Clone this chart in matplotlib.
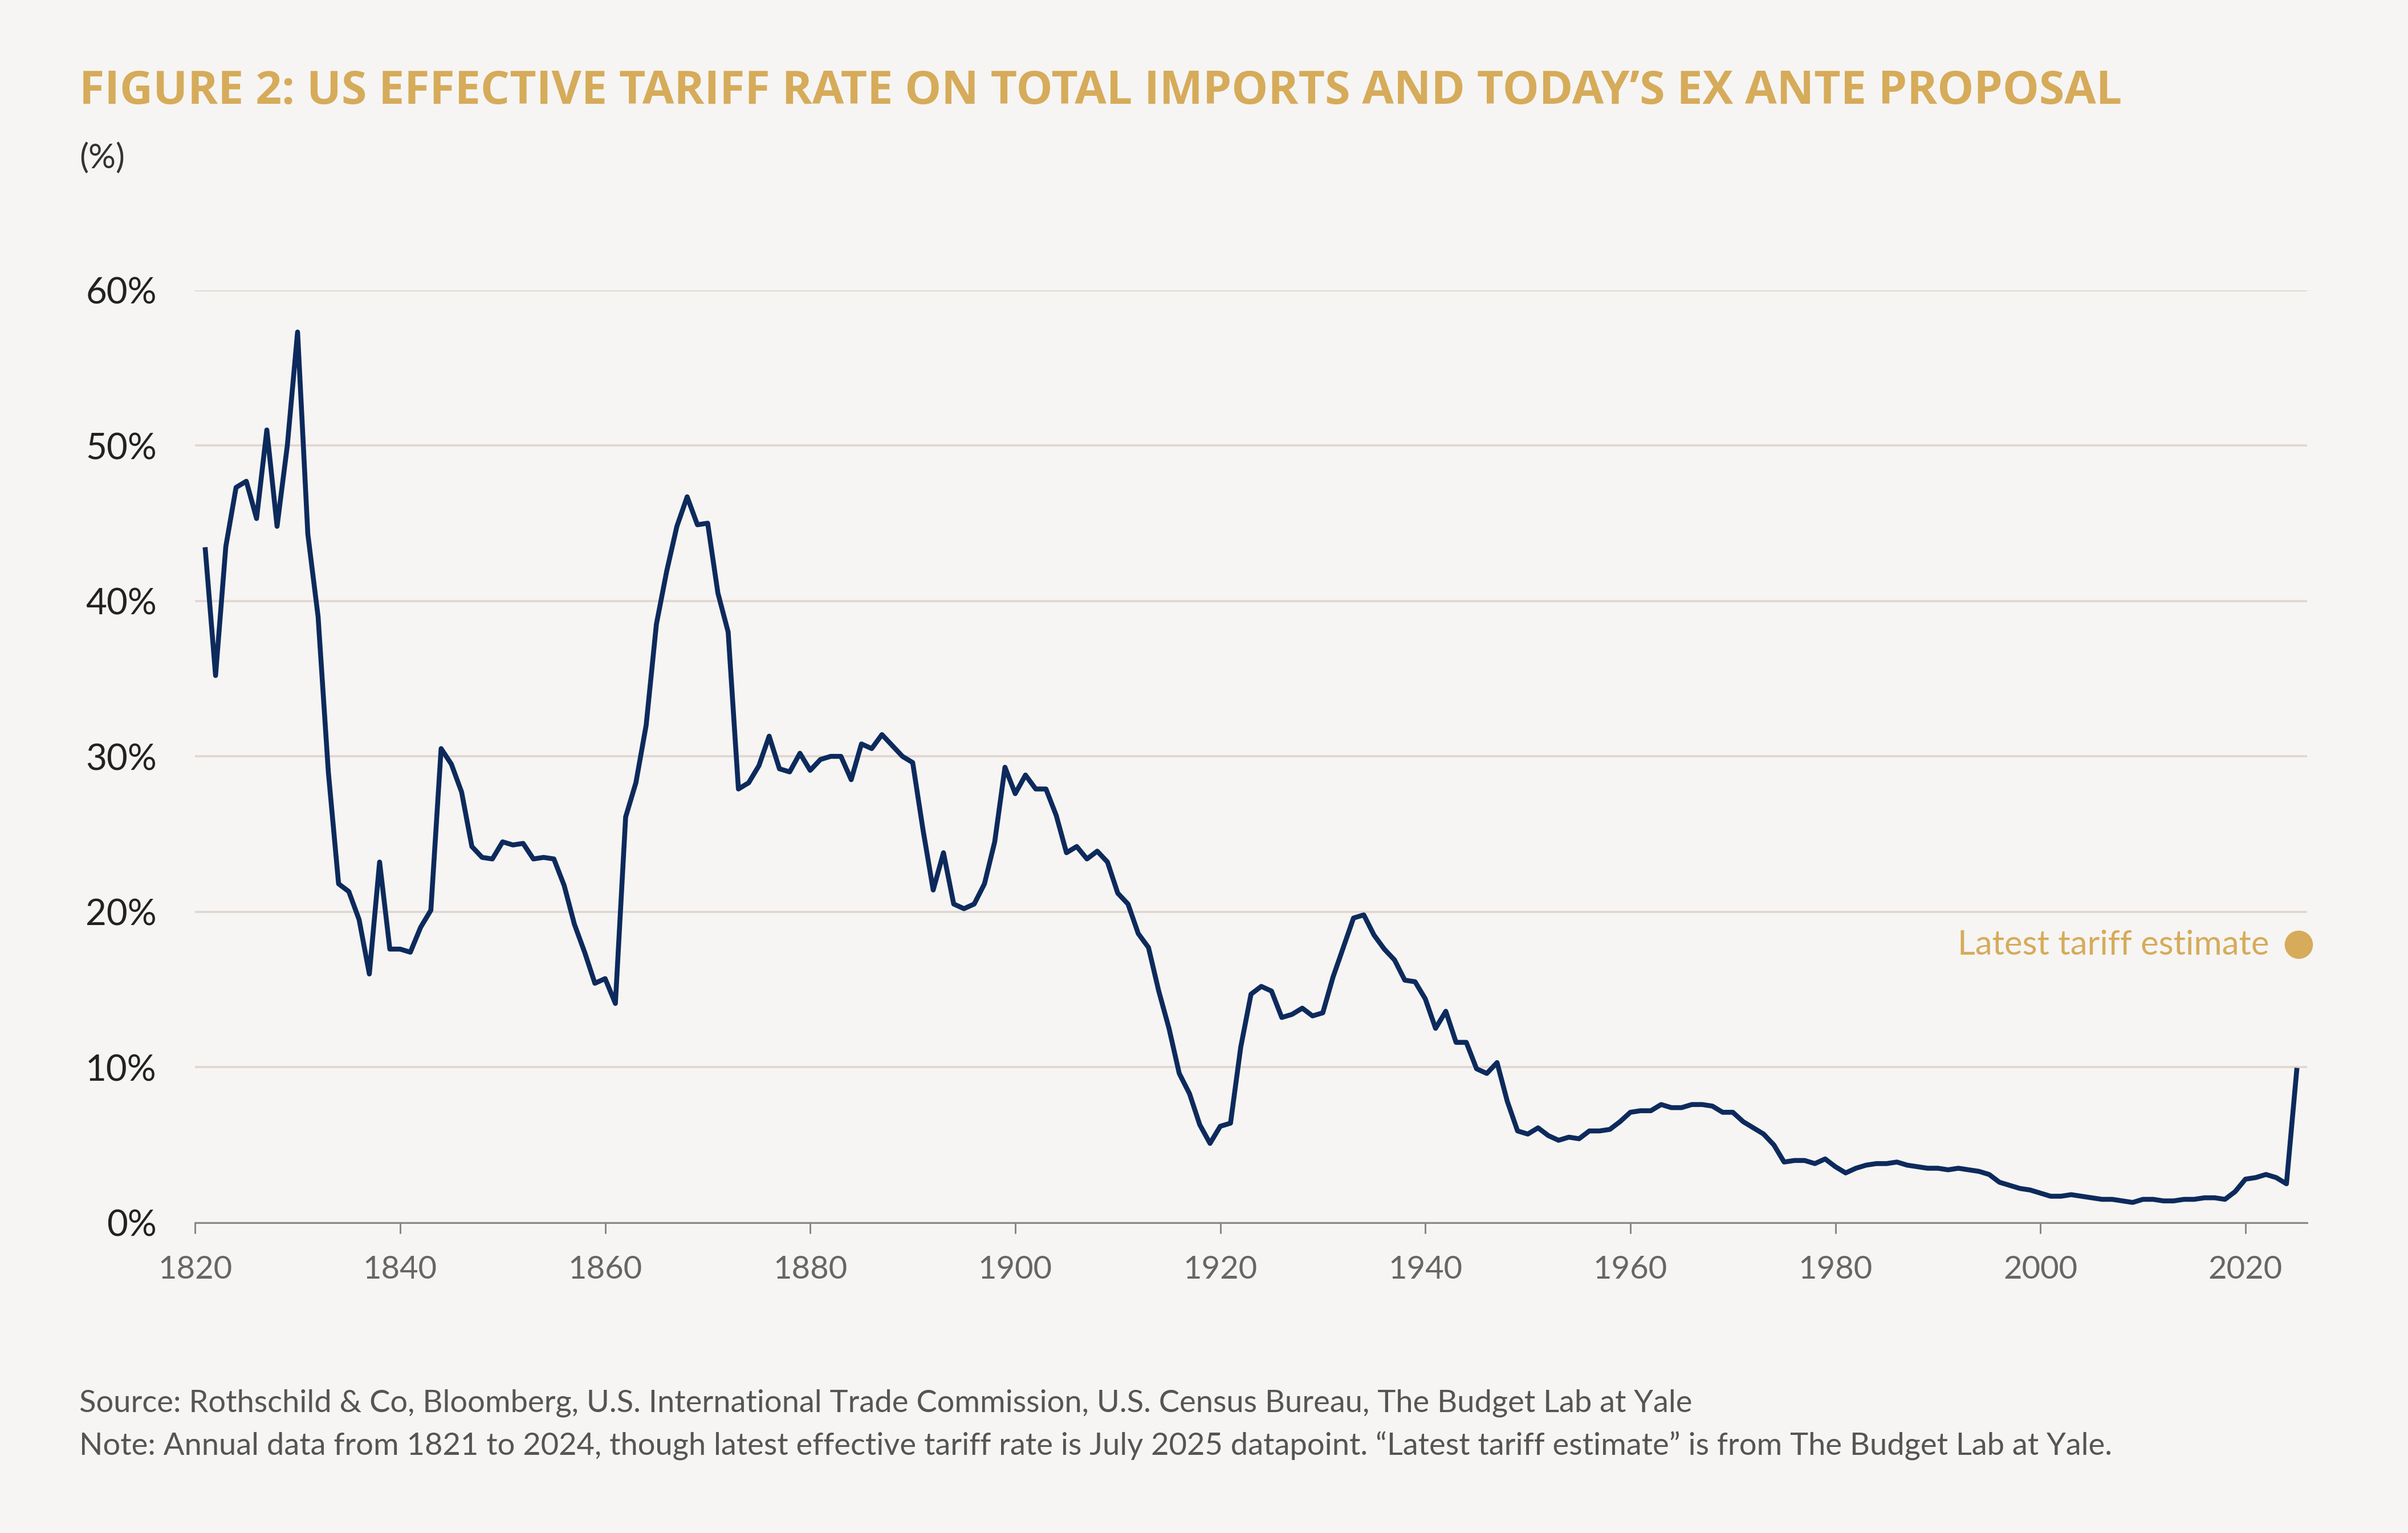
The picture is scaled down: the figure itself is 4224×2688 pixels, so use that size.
import matplotlib
matplotlib.use("Agg")
import matplotlib.pyplot as plt

years = list(range(1821, 2026))
tariff = [
    43.3, 35.2, 43.5, 47.3, 47.7, 45.3, 51.0, 44.8, 50.0, 57.3,
    44.3, 39.0, 29.0, 21.8, 21.3, 19.5, 16.0, 23.2, 17.6, 17.6,
    17.4, 19.0, 20.1, 30.5, 29.5, 27.7, 24.2, 23.5, 23.4, 24.5,
    24.3, 24.4, 23.4, 23.5, 23.4, 21.7, 19.2, 17.4, 15.4, 15.7,
    14.1, 26.1, 28.3, 32.0, 38.5, 41.9, 44.8, 46.7, 44.9, 45.0,
    40.5, 38.0, 27.9, 28.3, 29.4, 31.3, 29.2, 29.0, 30.2, 29.1,
    29.8, 30.0, 30.0, 28.5, 30.8, 30.5, 31.4, 30.7, 30.0, 29.6,
    25.3, 21.4, 23.8, 20.5, 20.2, 20.5, 21.8, 24.5, 29.3, 27.6,
    28.8, 27.9, 27.9, 26.2, 23.8, 24.2, 23.4, 23.9, 23.2, 21.2,
    20.5, 18.6, 17.7, 14.9, 12.5, 9.6, 8.3, 6.3, 5.1, 6.2,
    6.4, 11.3, 14.7, 15.2, 14.9, 13.2, 13.4, 13.8, 13.3, 13.5,
    15.8, 17.7, 19.6, 19.8, 18.5, 17.6, 16.9, 15.6, 15.5, 14.4,
    12.5, 13.6, 11.6, 11.6, 9.9, 9.6, 10.3, 7.8, 5.9, 5.7,
    6.1, 5.6, 5.3, 5.5, 5.4, 5.9, 5.9, 6.0, 6.5, 7.1,
    7.2, 7.2, 7.6, 7.4, 7.4, 7.6, 7.6, 7.5, 7.1, 7.1,
    6.5, 6.1, 5.7, 5.0, 3.9, 4.0, 4.0, 3.8, 4.1, 3.6,
    3.2, 3.5, 3.7, 3.8, 3.8, 3.9, 3.7, 3.6, 3.5, 3.5,
    3.4, 3.5, 3.4, 3.3, 3.1, 2.6, 2.4, 2.2, 2.1, 1.9,
    1.7, 1.7, 1.8, 1.7, 1.6, 1.5, 1.5, 1.4, 1.3, 1.5,
    1.5, 1.4, 1.4, 1.5, 1.5, 1.6, 1.6, 1.5, 2.0, 2.8,
    2.9, 3.1, 2.9, 2.5, 9.8,
]
estimate_year, estimate_value = 2025.2, 17.9
xticks = list(range(1820, 2021, 20))
yticks = [0, 10, 20, 30, 40, 50, 60]

BG = "#f6f5f3"
GOLD = "#d6ab5a"
NAVY = "#0d2a5c"
FONT = ["Lato", "DejaVu Sans"]

fig = plt.figure(figsize=(15.68, 9.98), facecolor=BG)
ax = fig.add_axes([0.081, 0.2024, 0.877, 0.6082], facecolor=BG)

ax.plot(years, tariff, color=NAVY, linewidth=2.3, solid_joinstyle="round")
ax.scatter([estimate_year], [estimate_value], s=150, color=GOLD, zorder=5, clip_on=False)
ax.annotate("Latest tariff estimate", (estimate_year, estimate_value), xytext=(-14, 0),
            textcoords="offset points", ha="right", va="center", color=GOLD,
            fontsize=16, family=FONT)

ax.set_xlim(1820, 2026)
ax.set_ylim(0, 60)
ax.set_yticks(yticks)
ax.set_yticklabels([f"{v}%" for v in yticks], fontsize=17, family=FONT, color="#222222")
ax.set_xticks(xticks)
ax.set_xticklabels([str(v) for v in xticks], fontsize=15, family=FONT, color="#666666")
ax.tick_params(axis="y", length=0, pad=18)
ax.tick_params(axis="x", length=5, color="#888888", pad=10)
ax.grid(axis="y", color="#e2d6d0", linewidth=1)
ax.set_axisbelow(True)
for s in ("top", "right", "left"):
    ax.spines[s].set_visible(False)
ax.spines["bottom"].set_color("#888888")

fig.text(0.033, 0.94, "FIGURE 2: US EFFECTIVE TARIFF RATE ON TOTAL IMPORTS AND TODAY\u2019S EX ANTE PROPOSAL",
         color=GOLD, fontsize=21.5, fontweight="bold", family=["Open Sans", "DejaVu Sans"], va="center")
fig.text(0.033, 0.897, "(%)", color="#333333", fontsize=16, family=FONT, va="center")
fig.text(0.033, 0.085, "Source: Rothschild & Co, Bloomberg, U.S. International Trade Commission, U.S. Census Bureau, The Budget Lab at Yale",
         color="#555555", fontsize=14.5, family=FONT, va="center")
fig.text(0.033, 0.057, "Note: Annual data from 1821 to 2024, though latest effective tariff rate is July 2025 datapoint. \u201cLatest tariff estimate\u201d is from The Budget Lab at Yale.",
         color="#555555", fontsize=14.5, family=FONT, va="center")

fig.savefig("out.png", dpi=269.4, facecolor=BG)
